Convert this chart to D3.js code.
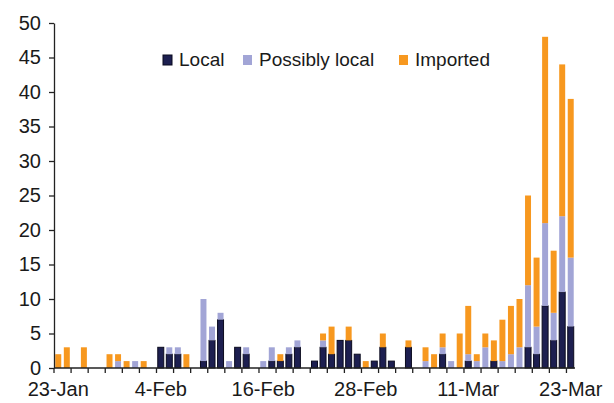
<!DOCTYPE html>
<html>
<head>
<meta charset="utf-8">
<script src="https://cdn.jsdelivr.net/npm/d3@7"></script>
<style>
body { margin: 0; background: #fff; }
text { font-family: "Liberation Sans", Arial, sans-serif; fill: #1a1a1a; }
</style>
</head>
<body>
<div id="chart"></div>
<script>
// one bar per day, 23-Jan to 23-Mar 2020
var days = d3.timeDay.range(new Date(2020, 0, 23), new Date(2020, 2, 24));
var dates = days.map(d3.timeFormat('%-d-%b'));

var local =    [0,0,0,0,0,0,0,0,0,0, 0,0,3,2,2,0,0,1,4,7, 0,3,2,0,0,1,1,2,3,0, 1,3,2,4,4,2,0,1,3,1, 0,3,0,0,0,2,0,0,1,0, 0,1,0,0,0,3,2,9,4,11, 6];
var possibly = [0,0,0,0,0,0,0,1,0,1, 0,0,0,1,1,0,0,9,2,1, 1,0,1,0,1,2,0,1,1,0, 0,1,0,0,0,0,0,0,0,0, 0,0,0,1,0,1,1,0,1,1, 3,0,1,2,3,9,4,12,4,11, 10];
var imported = [2,3,0,3,0,0,2,1,1,0, 1,0,0,0,0,2,0,0,0,0, 0,0,0,0,0,0,1,0,0,0, 0,1,4,0,2,0,1,0,2,0, 0,1,0,2,2,2,0,5,7,1, 2,3,6,7,7,13,10,27,9,22, 23];

var tickLabels = ['23-Jan', '4-Feb', '16-Feb', '28-Feb', '11-Mar', '23-Mar'];
var yTicks = [0, 5, 10, 15, 20, 25, 30, 35, 40, 45, 50];

var keys = ['local', 'possibly', 'imported'];
var names = ['Local', 'Possibly local', 'Imported'];
var colors = ['#1d1f50', '#a2a5d6', '#f7981f'];

var width = 614,
	height = 403;
var padding = {left: 54, right: 39, top: 23, bottom: 35};

var table = dates.map((d, i) => ({
	date: d,
	local: local[i],
	possibly: possibly[i],
	imported: imported[i]
}));

var stackData = d3.stack().keys(keys)(table);

var pi = 0.3;
var x = d3.scaleBand()
		.domain(dates)
		.range([padding.left, width - padding.right])
		.paddingInner(pi)
		.paddingOuter(pi / 2);

var y = d3.scaleLinear()
		.domain([0, 50])
		.range([height - padding.bottom, padding.top]);

var svg = d3.select('#chart')
		.append('svg')
		.attr('width', width)
		.attr('height', height);

// bars
svg.selectAll('.series')
	.data(stackData)
	.enter()
	.append('g')
	.attr('fill', (d, i) => colors[i])
	.attr('stroke', (d, i) => i == 0 ? '#0b0b1e' : 'none')
	.attr('stroke-width', 1)
	.selectAll('rect')
	.data(d => d.filter(s => s[1] > s[0]))
	.enter()
	.append('rect')
	.attr('x', d => x(d.data.date))
	.attr('width', x.bandwidth())
	.attr('y', d => y(d[1]))
	.attr('height', d => y(d[0]) - y(d[1]));

// y axis
var yAxis = svg.append('g')
		.attr('transform', `translate(${padding.left}, 0)`)
		.call(d3.axisLeft(y).tickValues(yTicks).tickSize(5).tickPadding(8).tickSizeOuter(0));
yAxis.select('.domain').attr('stroke', '#222').attr('stroke-width', 1.3);
yAxis.selectAll('.tick line').attr('stroke', '#222').attr('stroke-width', 1.3);
yAxis.selectAll('.tick text')
	.attr('font-size', 20)
	.attr('font-family', '"Liberation Sans", Arial, sans-serif')
	.attr('fill', '#1a1a1a');

// x axis: ticks every 2 days on band edges, labels every 12 days
var step = x.step();
var base = y(0);
var xAxis = svg.append('g');
xAxis.append('line')
	.attr('x1', padding.left)
	.attr('x2', width - padding.right)
	.attr('y1', base)
	.attr('y2', base)
	.attr('stroke', '#222')
	.attr('stroke-width', 1.3);

xAxis.selectAll('.xtick')
	.data(dates.filter((d, i) => i % 2 == 0))
	.enter()
	.append('line')
	.attr('x1', d => x(d) - step * pi / 2)
	.attr('x2', d => x(d) - step * pi / 2)
	.attr('y1', base)
	.attr('y2', base + 5)
	.attr('stroke', '#222')
	.attr('stroke-width', 1.3);

xAxis.selectAll('.xlabel')
	.data(tickLabels)
	.enter()
	.append('text')
	.attr('x', d => x(d) + x.bandwidth() / 2)
	.attr('y', base + 28)
	.attr('text-anchor', 'middle')
	.attr('font-size', 20)
	.text(d => d);

// legend
var legendX = [163, 243, 399];
var legend = svg.selectAll('.legend')
		.data(names)
		.enter()
		.append('g')
		.attr('transform', (d, i) => `translate(${legendX[i]}, 55)`);

legend.append('rect')
	.attr('width', 9)
	.attr('height', 10)
	.attr('fill', (d, i) => colors[i])
	.attr('stroke', (d, i) => i == 0 ? '#0b0b1e' : 'none');

legend.append('text')
	.attr('x', 16)
	.attr('y', 11)
	.attr('font-size', 19)
	.text(d => d);
</script>
</body>
</html>
